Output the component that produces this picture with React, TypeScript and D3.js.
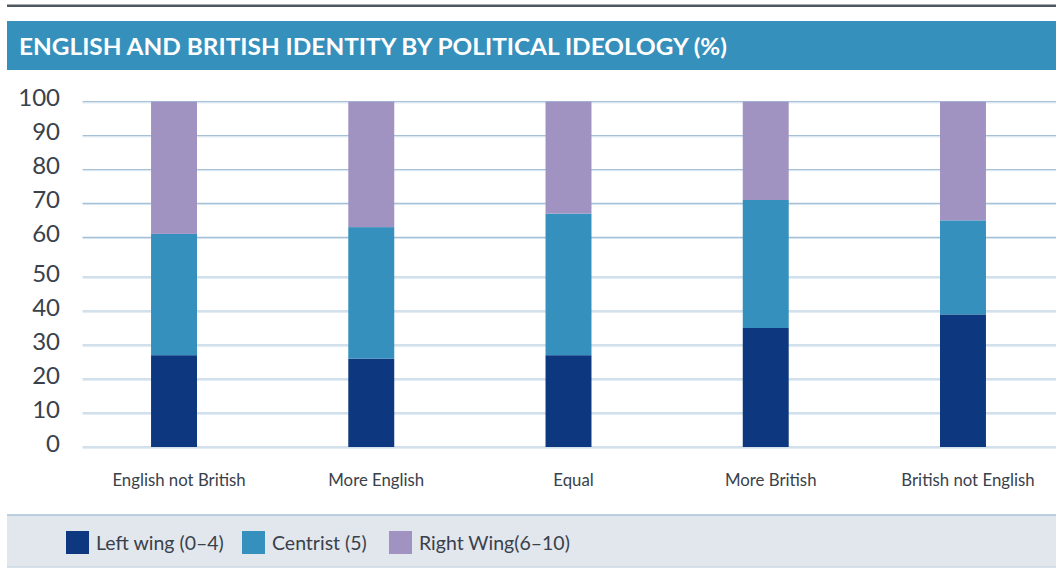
import React from "react";
import * as d3 from "d3";

const categories = ["English not British", "More English", "Equal", "More British", "British not English"];
const leftWing = [27, 26, 27, 35, 39];
const centrist = [34, 37, 40, 36, 26];
const rightWing = [39, 37, 33, 29, 35];
const seriesNames = ["Left wing (0\u20134)", "Centrist (5)", "Right Wing(6\u201310)"];
const seriesColors = ["#0d3880", "#3590bd", "#a093c2"];
const yTicks = [0, 10, 20, 30, 40, 50, 60, 70, 80, 90, 100];
const title = "ENGLISH AND BRITISH IDENTITY BY POLITICAL IDEOLOGY (%)";

const W = 1056;
const H = 568;
const FONT = "Lato, 'Open Sans', sans-serif";

export default function App() {
  // piecewise-linear y scale matching the reference's uneven gridlines
  const y = d3.scaleLinear().domain([0, 50, 60, 100]).range([447, 277, 237.3, 101.7]);
  const x = d3
    .scaleBand<string>()
    .domain(categories)
    .range([75.4, 1061.6])
    .paddingInner(0.767)
    .paddingOuter(0.3835);

  const series = [leftWing, centrist, rightWing];
  const stackData = categories.map((c, i) => ({
    cat: c,
    s0: series[0][i],
    s1: series[1][i],
    s2: series[2][i],
  }));
  const stack = d3.stack<any>().keys(["s0", "s1", "s2"]);
  const layers = stack(stackData);

  const legendX = [66, 242, 389];

  return (
    <svg
      width={W}
      height={H}
      style={{ position: "absolute", left: 0, top: 0, background: "#fff" }}
      fontFamily={FONT}
    >
      {/* top rule */}
      <rect x={7} y={4.5} width={W - 7} height={2.5} fill="#4f5862" />
      {/* title band */}
      <rect x={7} y={21} width={W - 7} height={49} fill="#3690bc" />
      <text
        x={19}
        y={54.5}
        fill="#fff"
        fontWeight={700}
        fontSize={23.5}
        textLength={708}
        lengthAdjust="spacingAndGlyphs"
      >
        {title}
      </text>

      {/* gridlines */}
      {yTicks.map((t) => (
        <g key={t}>
          <line x1={82.5} x2={W} y1={y(t)} y2={y(t)} stroke="#a4c1d8" strokeWidth={1.2} />
          <line x1={82.5} x2={W} y1={y(t) + 1.2} y2={y(t) + 1.2} stroke="#d6e4ef" strokeWidth={1} />
          <text
            x={60}
            y={y(t) - 1.5}
            textAnchor="end"
            dominantBaseline="middle"
            fontSize={24}
            fill="#39414b"
            fontWeight={400}
          >
            {t}
          </text>
        </g>
      ))}

      {/* bars */}
      {layers.map((layer, li) => (
        <g key={li} fill={seriesColors[li]}>
          {layer.map((d: any, i: number) => (
            <rect
              key={i}
              x={x(d.data.cat)}
              width={x.bandwidth()}
              y={y(d[1])}
              height={y(d[0]) - y(d[1])}
            />
          ))}
        </g>
      ))}

      {/* x labels */}
      {categories.map((c) => (
        <text
          key={c}
          x={(x(c) as number) + x.bandwidth() / 2 + 5}
          y={486}
          textAnchor="middle"
          fontSize={16.8}
          fill="#39414b"
        >
          {c}
        </text>
      ))}

      {/* legend band */}
      <rect x={7} y={515} width={W - 7} height={52} fill="#e2e6ed" />
      <line x1={7} x2={W} y1={515} y2={515} stroke="#a8c3d8" strokeWidth={1.5} />
      <line x1={7} x2={W} y1={567} y2={567} stroke="#c9d7e3" strokeWidth={1.5} />
      {seriesNames.map((n, i) => (
        <g key={n}>
          <rect x={legendX[i]} y={531} width={23} height={23} fill={seriesColors[i]} />
          <text x={legendX[i] + 30} y={549.5} fontSize={19.5} fill="#39414b">
            {n}
          </text>
        </g>
      ))}
    </svg>
  );
}
